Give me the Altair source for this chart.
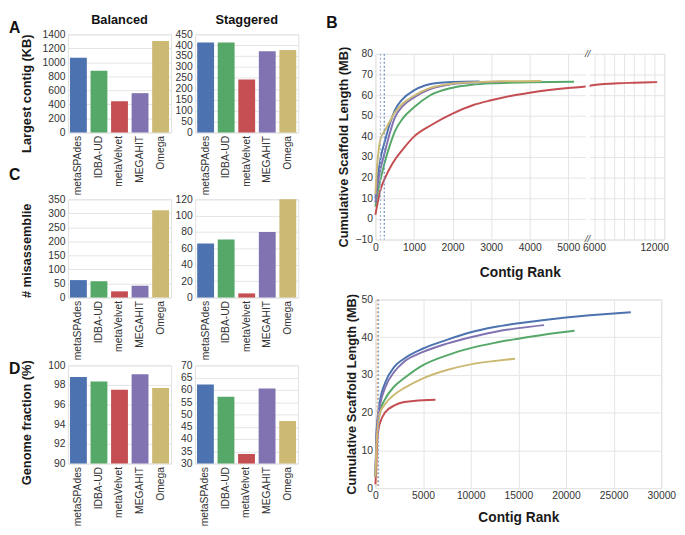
import altair as alt
import pandas as pd

FONT = "Liberation Sans"
LABEL = "#333333"
TITLE = "#1a1a1a"
GRID = "#e4e4e4"

methods = ["metaSPAdes", "IDBA-UD", "metaVelvet", "MEGAHIT", "Omega"]
palette = ["#4c72b0", "#55a868", "#c44e52", "#8172b2", "#ccb974"]

# ---- bar panels (A, C, D) ----
largest_balanced = [1065, 880, 445, 560, 1305]
largest_staggered = [412, 412, 243, 372, 378]
mis_balanced = [62, 58, 22, 42, 311]
mis_staggered = [66, 71, 5, 80, 120]
gf_balanced = [98.8, 98.35, 97.5, 99.1, 97.7]
gf_staggered = [62.2, 57.2, 33.9, 60.6, 47.3]

ticks_largest_balanced = [0, 200, 400, 600, 800, 1000, 1200, 1400]
ticks_largest_staggered = [0, 50, 100, 150, 200, 250, 300, 350, 400, 450]
ticks_mis_balanced = [0, 50, 100, 150, 200, 250, 300, 350]
ticks_mis_staggered = [0, 20, 40, 60, 80, 100, 120]
ticks_gf_balanced = [90, 92, 94, 96, 98, 100]
ticks_gf_staggered = [30, 35, 40, 45, 50, 55, 60, 65, 70]

# ---- B (top, balanced): cumulative scaffold length vs contig rank ----
top_rank = {
    "metaSPAdes": [0, 60, 130, 250, 380, 500, 700, 1000, 1300, 1600, 2000, 2700],
    "IDBA-UD": [0, 60, 130, 250, 380, 500, 700, 1000, 1400, 2000, 2500, 3000, 4000, 5150],
    "metaVelvet": [0, 60, 127, 254, 380, 509, 700, 1000, 1440, 2000, 2540, 3000, 3500, 4000,
                   4500, 5000, 5450, 6000, 7000, 8500, 10000, 12300],
    "MEGAHIT": [0, 60, 130, 250, 380, 500, 700, 1000, 1400, 2000, 2600, 3300],
    "Omega": [0, 40, 90, 130, 250, 380, 500, 700, 1000, 1400, 2000, 2600, 3300, 4300],
}
top_length = {
    "metaSPAdes": [10, 20, 29, 38, 46.5, 52.5, 58, 62.3, 64.8, 65.9, 66.4, 66.6],
    "IDBA-UD": [6, 13, 19, 28, 36, 42.2, 48.5, 54.1, 59.7, 63.6, 65, 65.7, 66.2, 66.5],
    "metaVelvet": [2, 8, 13.8, 20, 24.8, 28.8, 33.5, 39.9, 45.4, 51, 55.2, 57.5, 59.6, 61.2,
                   62.5, 63.5, 64.2, 64.9, 65.4, 65.8, 66.0, 66.3],
    "MEGAHIT": [8, 17, 24, 32.8, 42, 49, 54.5, 58.9, 62.8, 65.4, 66.2, 66.5],
    "Omega": [12, 25, 34, 38.5, 43, 47.5, 51.5, 55.8, 59.7, 63.4, 65.6, 66.3, 66.7, 66.9],
}
top_x_ticks = [0, 1000, 2000, 3000, 4000, 5000, 6000, 7000, 8000, 9000, 10000, 11000, 12000, 13000]
top_y_ticks = [-10, 0, 10, 20, 30, 40, 50, 60, 70, 80]
top_marker_rank_a = [130]
top_marker_rank_b = [230]

# ---- B (bottom, staggered) ----
bot_rank = {
    "metaSPAdes": [0, 100, 250, 500, 1000, 2000, 3000, 5000, 7500, 10000, 12500, 15000,
                   17500, 20000, 22500, 25000, 26800],
    "IDBA-UD": [0, 100, 250, 500, 1000, 2000, 3000, 5000, 7500, 10000, 12500, 15000, 17500, 20900],
    "metaVelvet": [0, 100, 170, 330, 500, 1000, 2000, 3000, 4000, 5000, 6300],
    "MEGAHIT": [0, 100, 250, 500, 1000, 2000, 3000, 5000, 7500, 10000, 12500, 15000, 17700],
    "Omega": [0, 100, 250, 500, 1000, 2000, 3000, 5000, 7500, 10000, 12500, 14650],
}
bot_length = {
    "metaSPAdes": [3, 14, 19, 23.5, 27.8, 32.2, 34.3, 37, 39.3, 41.3, 42.7, 43.7,
                   44.5, 45.2, 45.8, 46.3, 46.6],
    "IDBA-UD": [3, 11, 16.5, 20.4, 23.5, 27, 29.1, 32.6, 35.2, 37.1, 38.5, 39.6, 40.6, 41.7],
    "metaVelvet": [1, 6, 11, 15.7, 17.4, 20, 21.9, 22.8, 23.1, 23.3, 23.4],
    "MEGAHIT": [3, 13, 18, 22.2, 26.5, 30.9, 33.5, 36.1, 38.3, 40, 41.4, 42.4, 43.2],
    "Omega": [3, 11, 16, 20, 22.2, 24.8, 26.5, 29.1, 31.3, 32.8, 33.7, 34.3],
}
bot_x_ticks = [0, 5000, 10000, 15000, 20000, 25000, 30000]
bot_y_ticks = [0, 10, 20, 30, 40, 50]
bot_marker_rank_a = [200]
bot_marker_rank_b = [330]

color_scale = alt.Scale(domain=methods, range=palette)
AX = dict(labelOverlap=False, labelFlush=False, ticks=False, domain=False)


def text_layer(txt, x, y, size=16, align="left"):
    return alt.Chart(pd.DataFrame({"t": [txt]})).mark_text(
        align=align, baseline="top", fontSize=size, fontWeight="bold", color="#111111"
    ).encode(text="t:N", x=alt.value(x), y=alt.value(y))


def invisible(x, y):
    return alt.Chart(pd.DataFrame({"t": ["."]})).mark_text(
        opacity=0, fontSize=4, align="left", baseline="top"
    ).encode(text="t:N", x=alt.value(x), y=alt.value(y))


def bar_panel(values, domain, ticks, ytitle=None, title_y=50, title=None, letters=(),
              extra=(), w=105, h=100):
    df = pd.DataFrame({"method": methods, "value": values})
    yk = dict(values=ticks, grid=True, format="d", **AX)
    if ytitle:
        yk.update(title=ytitle, titleX=-35, titleY=title_y)
    else:
        yk.update(title=None)
    bars = alt.Chart(df).mark_bar().encode(
        x=alt.X("method:N", sort=methods,
                scale=alt.Scale(paddingInner=0.18, paddingOuter=0.1),
                axis=alt.Axis(title=None, labelAngle=270, grid=False, **AX)),
        y=alt.Y("value:Q", scale=alt.Scale(domain=domain, nice=False, zero=False),
                axis=alt.Axis(**yk)),
        y2=alt.Y2(datum=domain[0]),
        color=alt.Color("method:N", scale=color_scale, legend=None),
    )
    layers = [bars] + [text_layer(l, -60, ly) for (l, ly) in letters] + list(extra)
    if title:
        layers.append(text_layer(title, w / 2, -20, size=13, align="center"))
        layers.append(invisible(0, -21))
    return alt.layer(*layers).properties(width=w, height=h)


a_bal = bar_panel(largest_balanced, [0, 1400], ticks_largest_balanced, "Largest contig (KB)", 60,
                  "Balanced", letters=[("A", -14), ("C", 135)])
a_stag = bar_panel(largest_staggered, [0, 450], ticks_largest_staggered, title="Staggered")
c_bal = bar_panel(mis_balanced, [0, 350], ticks_mis_balanced, "# misassemblie", 52,
                  extra=[invisible(-60, 50)])
c_stag = bar_panel(mis_staggered, [0, 120], ticks_mis_staggered)
d_bal = bar_panel(gf_balanced, [90, 100], ticks_gf_balanced, "Genome fraction (%)", 58,
                  letters=[("D", -4)])
d_stag = bar_panel(gf_staggered, [30, 70], ticks_gf_staggered)

row_a = alt.hconcat(a_bal, a_stag, spacing=1.5)
row_c = alt.hconcat(c_bal, c_stag, spacing=1.5)
row_d = alt.hconcat(d_bal, d_stag, spacing=7.3)
left_col = alt.vconcat(row_a, row_c, row_d, spacing=-3)


def long_df(ranks, lengths):
    rows = []
    for m in methods:
        for r, v in zip(ranks[m], lengths[m]):
            rows.append({"method": m, "rank": r, "length": v})
    return pd.DataFrame(rows)


# ---- spacer carrying the "B" letter (aligns right column with left column) ----
TW, TH = 294, 189
spacer = alt.layer(
    text_layer("B", -50, -19), invisible(-50, -21)
).properties(width=TW, height=1, view=alt.ViewBackground(stroke="transparent"))

# ---- B top (broken x axis: 0-5450 | 5550-13000) ----
X_top = alt.X("rank:Q",
              scale=alt.Scale(domain=[0, 5450, 5550, 13000], range=[0, 214, 218, TW],
                              nice=False, zero=False),
              axis=alt.Axis(values=top_x_ticks, title="Contig Rank", titleFontSize=14,
                            titlePadding=13, **AX,
                            labelExpr="(datum.value <= 6000 || datum.value == 12000) ? format(datum.value, 'd') : ''"))
Y_top = alt.Y("length:Q", scale=alt.Scale(domain=[-10, 80], nice=False, zero=False),
              axis=alt.Axis(values=top_y_ticks, title="Cumulative Scaffold Length (MB)",
                            titleX=-25, format="d", **AX))

top_lines = alt.Chart(long_df(top_rank, top_length)).mark_line(
    strokeWidth=2, interpolate="monotone").encode(
    x=X_top, y=Y_top, color=alt.Color("method:N", scale=color_scale, legend=None))
top_m1 = alt.Chart(pd.DataFrame({"rank": top_marker_rank_a})).mark_rule(
    color="#9db3cf", strokeDash=[2, 2], strokeWidth=1.2).encode(x=X_top)
top_m2 = alt.Chart(pd.DataFrame({"rank": top_marker_rank_b})).mark_rule(
    color="#6b8fbd", strokeDash=[2, 2], strokeWidth=1.2).encode(x=X_top)
gap = alt.Chart(pd.DataFrame({"rank": [5450], "rank_end": [5550]})).mark_rect(
    color="white").encode(x=X_top, x2="rank_end:Q", y=alt.value(-1), y2=alt.value(TH + 1))
breaks = alt.Chart(pd.DataFrame({"rank": [5500, 5500], "length": [80, -10]})).mark_text(
    text="//", fontSize=10, color="#444444", fontStyle="italic").encode(x=X_top, y=Y_top)
b_top = alt.layer(
    top_lines, top_m1, top_m2, gap, breaks, invisible(-50, -11),
).properties(width=TW, height=TH)

# ---- B bottom ----
BW, BH = 291, 192
X_bot = alt.X("rank:Q", scale=alt.Scale(domain=[0, 30000], nice=False),
              axis=alt.Axis(values=bot_x_ticks, title="Contig Rank", titleFontSize=14,
                            titlePadding=10, format="d", **AX))
Y_bot = alt.Y("length:Q", scale=alt.Scale(domain=[0, 50], nice=False),
              axis=alt.Axis(values=bot_y_ticks, title="Cumulative Scaffold Length (MB)",
                            titleX=-17, format="d", **AX))
bot_lines = alt.Chart(long_df(bot_rank, bot_length)).mark_line(
    strokeWidth=2, interpolate="monotone").encode(
    x=X_bot, y=Y_bot, color=alt.Color("method:N", scale=color_scale, legend=None))
bot_m1 = alt.Chart(pd.DataFrame({"rank": bot_marker_rank_a})).mark_rule(
    color="#e3a46a", strokeDash=[2, 2], strokeWidth=1.2).encode(x=X_bot)
bot_m2 = alt.Chart(pd.DataFrame({"rank": bot_marker_rank_b})).mark_rule(
    color="#8aa9d6", strokeDash=[2, 2], strokeWidth=1.2).encode(x=X_bot)
b_bot = alt.layer(
    bot_lines, bot_m1, bot_m2, invisible(-50, -13.5),
).properties(width=BW, height=BH)

right_col = alt.vconcat(spacer, b_top, b_bot, spacing=6)

chart = alt.hconcat(left_col, right_col, spacing=27).properties(
    padding=0, background="white"
).configure_axis(
    labelFont=FONT, titleFont=FONT, labelFontSize=10.5, labelColor=LABEL,
    titleFontSize=13, titleFontWeight="bold", titleColor=TITLE,
    gridColor=GRID, labelPadding=3,
).configure_view(stroke="#e0e0e0").configure_text(font=FONT)

chart.save("out.html", embed_options={"renderer": "svg", "actions": False})
